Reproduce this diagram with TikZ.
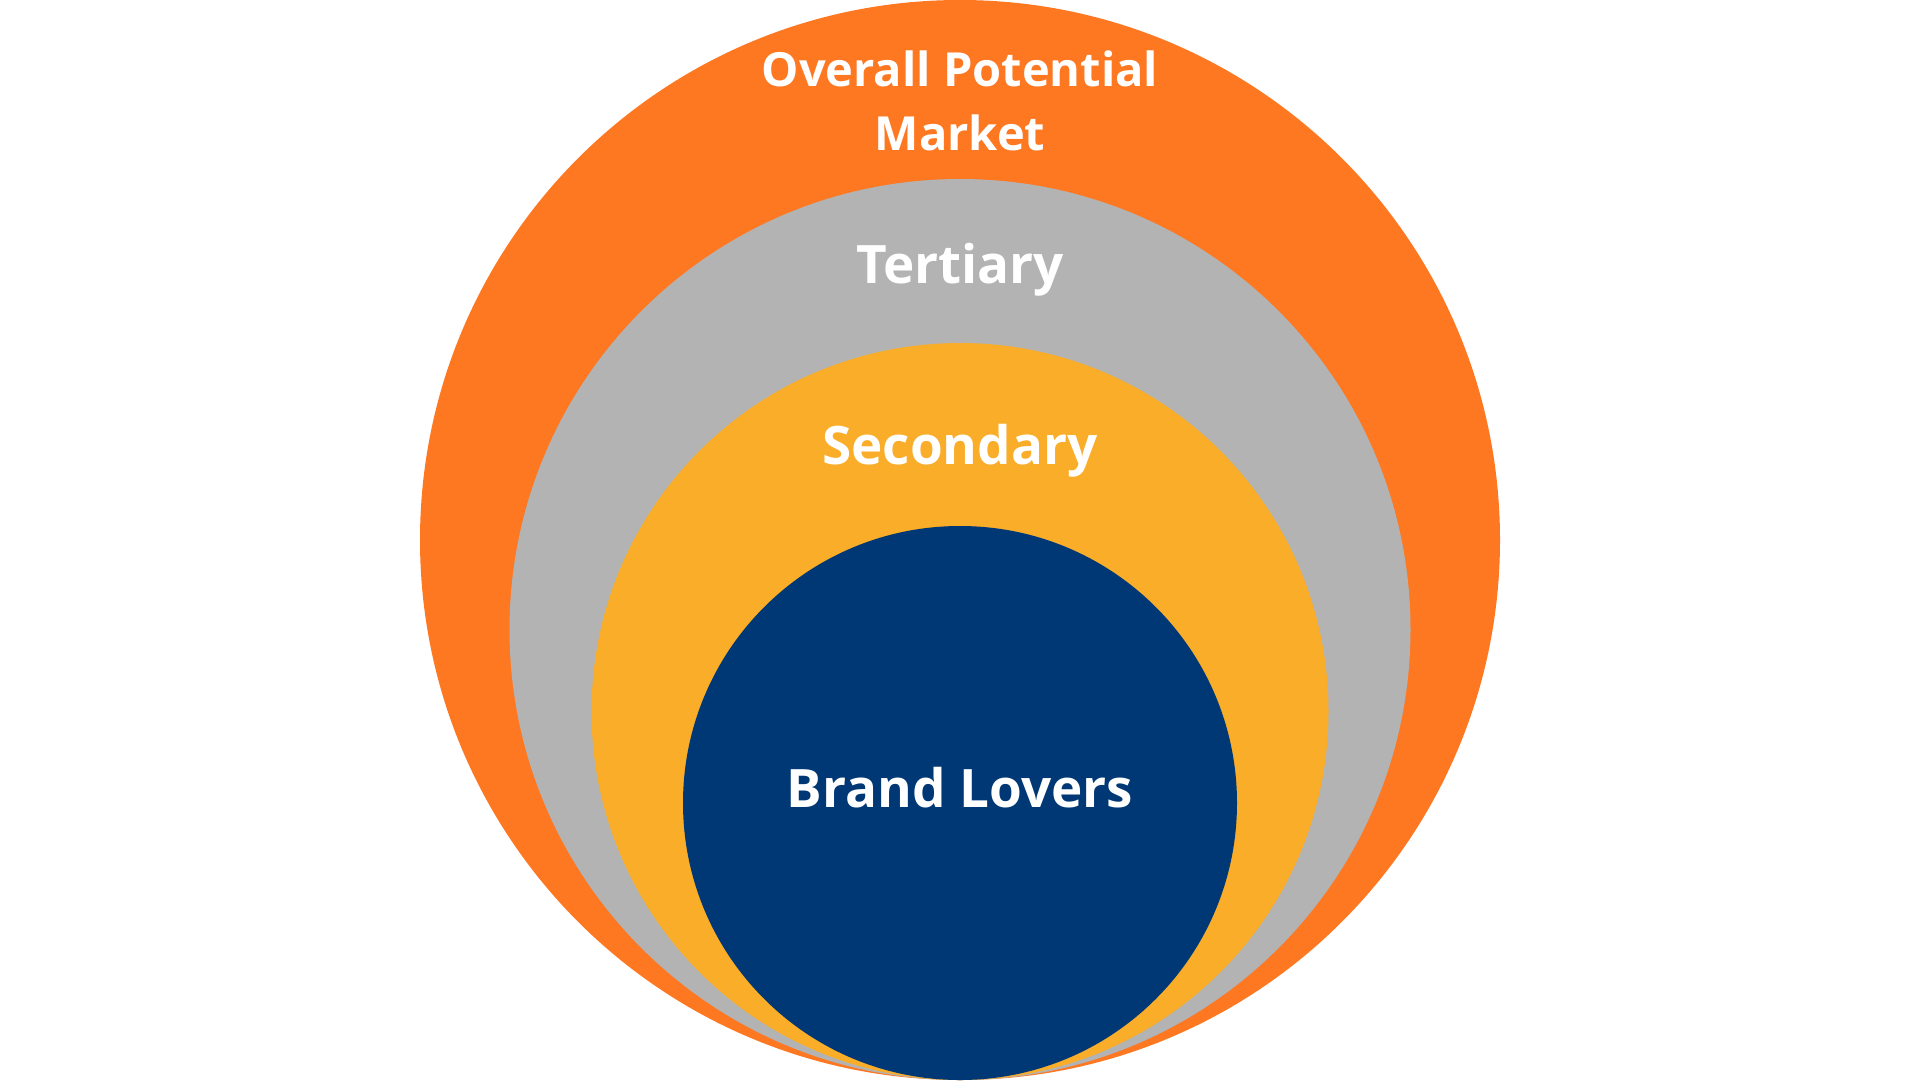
\documentclass[tikz,border=0pt]{standalone}
\usepackage{fontspec}
\setmainfont{Open Sans}
\definecolor{cOrange}{RGB}{254,119,33}
\definecolor{cGray}{RGB}{179,179,179}
\definecolor{cYellow}{RGB}{249,173,41}
\definecolor{cNavy}{RGB}{0,56,118}
\tikzset{
  ring/.style={circle, inner sep=0pt, outer sep=0pt, draw=none},
  lbl/.style={text=white, font=\fontsize{53}{61}\selectfont\bfseries, anchor=base, inner sep=0pt},
  toplbl/.style={lbl, font=\fontsize{47}{61}\selectfont\bfseries}
}
\begin{document}
\begin{tikzpicture}[x=1pt,y=-1pt]
\useasboundingbox[fill=white] (0,0) rectangle (1920,1080);
\node[ring, fill=cOrange, minimum size=1080pt] (overall) at (960,540) {};
\node[ring, fill=cGray, minimum size=901pt] (tertiary) at (960,629.5) {};
\node[ring, fill=cYellow, minimum size=737pt] (secondary) at (960,711.5) {};
\node[ring, fill=cNavy, minimum size=554pt] (lovers) at (960,803) {};
\node[toplbl] (t1) at (960,86) {Overall Potential};
\node[toplbl] (t2) at (960,150) {Market};
\node[lbl] (t3) at (960,283) {Tertiary};
\node[lbl] (t4) at (960,464) {Secondary};
\node[lbl] (t5) at (960,807) {Brand Lovers};
\end{tikzpicture}
\end{document}
